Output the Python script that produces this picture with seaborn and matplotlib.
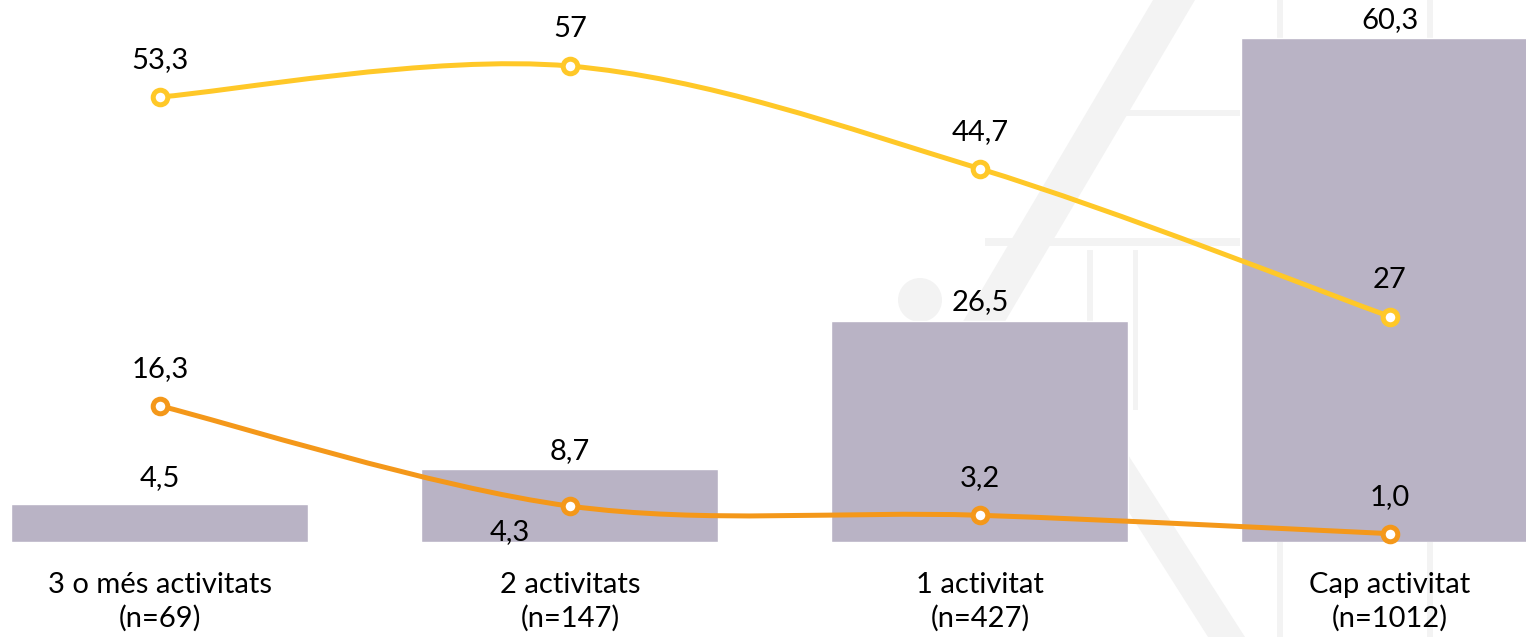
import numpy as np
import pandas as pd
import matplotlib
matplotlib.use("Agg")
import matplotlib.pyplot as plt
from matplotlib.path import Path
from matplotlib.patches import PathPatch, Polygon, Circle
from matplotlib.transforms import IdentityTransform
import seaborn as sns

# ---------------- data ----------------
categories = ["3 o més activitats", "2 activitats", "1 activitat", "Cap activitat"]
sample_sizes = ["(n=69)", "(n=147)", "(n=427)", "(n=1012)"]
bar_values = [4.5, 8.7, 26.5, 60.3]
bar_labels = ["4,5", "8,7", "26,5", "60,3"]
yellow_values = [53.3, 57, 44.7, 27]
yellow_labels = ["53,3", "57", "44,7", "27"]
orange_values = [16.3, 4.3, 3.2, 1.0]
orange_labels = ["16,3", "4,3", "3,2", "1,0"]

# ---------------- style ----------------
BAR_COLOR = "#B9B3C5"
YELLOW = "#FFC828"
ORANGE = "#F4981A"
WM = "#F3F3F3"

sns.set_theme(style="white")
plt.rcParams["font.family"] = ["Lato", "DejaVu Sans"]
FS = 21

W, H = 1526, 637
fig = plt.figure(figsize=(W / 100, H / 100), dpi=100)
IDT = IdentityTransform()


# faint background watermark (decorative, pixel coords with y from top)
def px_poly(pts):
    p = Polygon([(x, H - y) for x, y in pts], closed=True, transform=IDT,
                color=WM, lw=0, zorder=-5)
    fig.patches.append(p)


px_poly([(958, 330), (1000, 330), (1195, 0), (1153, 0)])
px_poly([(1045, 380), (1080, 380), (1245, 637), (1208, 637)])
px_poly([(985, 238), (1240, 238), (1240, 246), (985, 246)])
px_poly([(1115, 110), (1240, 110), (1240, 116), (1115, 116)])
px_poly([(1087, 250), (1093, 250), (1093, 360), (1087, 360)])
px_poly([(1133, 250), (1138, 250), (1138, 410), (1133, 410)])
px_poly([(1277, 0), (1283, 0), (1283, 637), (1277, 637)])
px_poly([(1427, 0), (1433, 0), (1433, 637), (1427, 637)])
fig.patches.append(Circle((920, H - 300), 22, transform=IDT, color=WM, lw=0, zorder=-5))

ax = fig.add_axes([0, 95 / H, 1, 1 - 95 / H])
ax.patch.set_alpha(0)

df = pd.DataFrame({"cat": categories, "val": bar_values})
sns.barplot(data=df, x="cat", y="val", color=BAR_COLOR, saturation=1,
            width=0.724, ax=ax, zorder=2)

ax.set_xlim(-0.390, 3.332)
ax.set_ylim(0, 542 / 8.35)
for s in ax.spines.values():
    s.set_visible(False)
ax.set_yticks([])
ax.set_xticks([])
ax.set_xlabel("")
ax.set_ylabel("")

x = np.arange(len(categories), dtype=float)
PT = 0.72  # points per pixel

# category labels (two lines) below the baseline
for i, (c, n) in enumerate(zip(categories, sample_sizes)):
    ax.annotate(c, (x[i], 0), xytext=(0, -51 * PT), textcoords="offset points",
                ha="center", va="baseline", fontsize=FS, color="black",
                annotation_clip=False)
    ax.annotate(n, (x[i], 0), xytext=(0, -85 * PT), textcoords="offset points",
                ha="center", va="baseline", fontsize=FS, color="black",
                annotation_clip=False)


def smooth_path(xs, ys):
    pts = np.column_stack([xs, ys])
    n = len(pts)
    verts = [pts[0]]
    codes = [Path.MOVETO]
    for i in range(n - 1):
        p0 = pts[i - 1] if i > 0 else pts[i]
        p1 = pts[i]
        p2 = pts[i + 1]
        p3 = pts[i + 2] if i + 2 < n else pts[i + 1]
        c1 = p1 + (p2 - p0) / 6.0
        c2 = p2 - (p3 - p1) / 6.0
        verts += [c1, c2, p2]
        codes += [Path.CURVE4] * 3
    return Path(verts, codes)


for vals, col in [(yellow_values, YELLOW), (orange_values, ORANGE)]:
    ax.add_patch(PathPatch(smooth_path(x, np.array(vals, float)), fill=False,
                           edgecolor=col, lw=3.6, zorder=3, clip_on=False,
                           capstyle="round"))
    ax.plot(x, vals, linestyle="none", marker="o", ms=10.5, mew=3.6,
            mfc="white", mec=col, zorder=4, clip_on=False)

# bar value labels (offsets in pixels)
bar_off = [26, 18, 19, 18]
for i, (v, t) in enumerate(zip(bar_values, bar_labels)):
    ax.annotate(t, (x[i], v), xytext=(0, bar_off[i] * PT), textcoords="offset points",
                ha="center", va="center", fontsize=FS, color="black", zorder=5)

for i, (v, t) in enumerate(zip(yellow_values, yellow_labels)):
    ax.annotate(t, (x[i], v), xytext=(0, 37 * PT), textcoords="offset points",
                ha="center", va="center", fontsize=FS, color="black", zorder=5)

orange_off = [(0, 37), (-60, -26), (0, 37), (0, 37)]
for i, (v, t) in enumerate(zip(orange_values, orange_labels)):
    dx, dy = orange_off[i]
    ax.annotate(t, (x[i], v), xytext=(dx * PT, dy * PT), textcoords="offset points",
                ha="center", va="center", fontsize=FS, color="black", zorder=5)

fig.savefig("out.png", dpi=100)
